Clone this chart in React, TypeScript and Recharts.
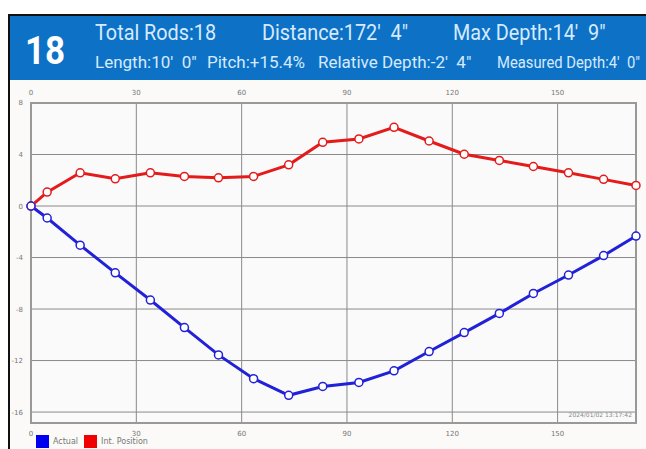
import React from 'react';
import {
  LineChart,
  Line,
  XAxis,
  YAxis,
  CartesianGrid,
} from 'recharts';

// rod distance (ft) for each reading
const distances = [0, 4.6, 14.0, 24.0, 34.0, 43.7, 53.4, 63.4, 73.4, 83.1, 93.4, 103.4, 113.4, 123.4, 133.4, 143.1, 153.1, 163.1, 172.33];
// depth readings (ft)
const actualDepth = [0, -0.93, -3.04, -5.19, -7.3, -9.44, -11.56, -13.41, -14.7, -14.01, -13.7, -12.8, -11.3, -9.83, -8.34, -6.79, -5.36, -3.85, -2.33];
const intPosition = [0, 1.08, 2.58, 2.11, 2.58, 2.3, 2.19, 2.3, 3.2, 4.95, 5.21, 6.11, 5.05, 4.02, 3.54, 3.07, 2.58, 2.07, 1.6];
const xTicks = [0, 30, 60, 90, 120, 150];
const yTicks = [8, 4, 0, -4, -8, -12, -16];

const data = distances.map((d, i) => ({ dist: d, actual: actualDepth[i], intPos: intPosition[i] }));

const headerTop = ['Total Rods:18', "Distance:172'  4\"", "Max Depth:14'  9\""];
const headerTopX = [95, 262, 453];
const headerBottom = ["Length:10'  0\"", 'Pitch:+15.4%', "Relative Depth:-2'  4\"", "Measured Depth:4'  0\""];
const headerBottomX = [95, 207, 318, 497];
const headerBottomScale = [1, 1, 1, 0.87];

const tickStyle = { fontSize: 7, fill: '#777', fontFamily: 'DejaVu Sans' };

const App: React.FC = () => {
  return (
    <div style={{ position: 'absolute', left: 0, top: 0, width: 646, height: 449, background: '#fff', overflow: 'hidden', fontFamily: 'Roboto' }}>
      {/* frame */}
      <div style={{ position: 'absolute', left: 8, top: 14, width: 640, height: 440, borderLeft: '2px solid #111', borderTop: '2px solid #111' }} />
      {/* header */}
      <div style={{ position: 'absolute', left: 10, top: 16, width: 636, height: 64, background: '#0d72c6', lineHeight: 1 }}>
        <div style={{ position: 'absolute', left: 15, top: 16, color: '#fff', fontSize: 38, fontWeight: 'bold', transform: 'scaleX(0.92)', transformOrigin: 'left' }}>18</div>
        {headerTop.map((t, i) => (
          <div key={t} style={{ position: 'absolute', left: headerTopX[i] - 10, top: 6, color: '#d6eaff', fontSize: 22, whiteSpace: 'pre', transform: 'scaleX(0.9)', transformOrigin: 'left' }}>{t}</div>
        ))}
        {headerBottom.map((t, i) => (
          <div key={t} style={{ position: 'absolute', left: headerBottomX[i] - 10, top: 38, color: '#d6eaff', fontSize: 17, whiteSpace: 'pre', transform: `scaleX(${headerBottomScale[i]})`, transformOrigin: 'left' }}>{t}</div>
        ))}
      </div>
      {/* chart */}
      <div style={{ position: 'absolute', left: 10, top: 80, width: 636, height: 369, background: '#fbfaf8' }}>
        <LineChart width={636} height={369} data={data} margin={{ top: 8, right: 10, bottom: 14, left: 0 }}>
          <CartesianGrid xAxisId="bottom" stroke="#8a8a8a" strokeWidth={1} fill="#fafafa" horizontalValues={yTicks} verticalValues={xTicks} />
          <XAxis xAxisId="top" orientation="top" type="number" dataKey="dist" domain={[0, 172.33]} ticks={xTicks} height={15} tick={tickStyle} axisLine={false} tickLine={false} />
          <XAxis xAxisId="bottom" orientation="bottom" type="number" dataKey="dist" domain={[0, 172.33]} ticks={xTicks} height={12} tick={tickStyle} axisLine={false} tickLine={false} />
          <YAxis type="number" domain={[-16.85, 8]} ticks={yTicks} width={21} tick={tickStyle} axisLine={false} tickLine={false} />
          <rect x={21} y={23} width={605} height={320} fill="none" stroke="#999" strokeWidth={2} />
          <Line xAxisId="bottom" type="linear" dataKey="intPos" stroke="#e41b1b" strokeWidth={3} dot={{ r: 4, fill: '#fff', stroke: '#e41b1b', strokeWidth: 1.5 }} isAnimationActive={false} />
          <Line xAxisId="bottom" type="linear" dataKey="actual" stroke="#2121d8" strokeWidth={3} dot={{ r: 4, fill: '#fff', stroke: '#2121d8', strokeWidth: 1.5 }} isAnimationActive={false} />
          <text x={622} y={337} textAnchor="end" fontSize={6} fill="#888" fontFamily="DejaVu Sans">2024/01/02 13:17:42</text>
        </LineChart>
      </div>
      {/* legend */}
      <div style={{ position: 'absolute', left: 36, top: 435, display: 'flex', alignItems: 'center', fontSize: 8, color: '#777', fontFamily: 'DejaVu Sans' }}>
        <span style={{ width: 13, height: 13, background: '#0000f0', display: 'inline-block' }} />
        <span style={{ marginLeft: 4, marginRight: 6 }}>Actual</span>
        <span style={{ width: 13, height: 13, background: '#f00000', display: 'inline-block' }} />
        <span style={{ marginLeft: 4 }}>Int. Position</span>
      </div>
    </div>
  );
};

export default App;
